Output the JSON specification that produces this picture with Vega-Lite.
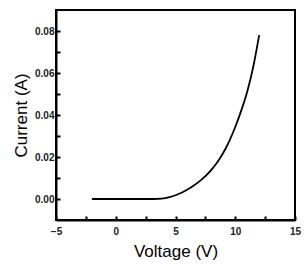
{
  "$schema": "https://vega.github.io/schema/vega-lite/v6.json",
  "width": 239,
  "height": 210,
  "autosize": "none",
  "padding": {"left": 56, "top": 10, "right": 11, "bottom": 45},
  "background": "white",
  "config": {
    "view": {"stroke": "black", "strokeWidth": 2},
    "axis": {
      "domainColor": "black",
      "domainWidth": 2,
      "tickColor": "black",
      "tickWidth": 2,
      "tickSize": -4,
      "labelFont": "Liberation Sans",
      "labelFontWeight": "bold",
      "labelFontSize": 10,
      "labelColor": "#222",
      "titleFont": "Liberation Sans",
      "titleFontWeight": "normal",
      "titleFontSize": 17,
      "titleColor": "black",
      "grid": false
    }
  },
  "data": {
    "values": [
      {"v": -2, "i": 0},
      {"v": -1, "i": 0},
      {"v": 0, "i": 0},
      {"v": 1, "i": 0},
      {"v": 2, "i": 0},
      {"v": 3, "i": 0},
      {"v": 3.5, "i": 0.0001},
      {"v": 4, "i": 0.0003},
      {"v": 4.5, "i": 0.0009},
      {"v": 5, "i": 0.0018},
      {"v": 5.5, "i": 0.003},
      {"v": 6, "i": 0.0045},
      {"v": 6.5, "i": 0.0063},
      {"v": 7, "i": 0.0084},
      {"v": 7.5, "i": 0.0109},
      {"v": 8, "i": 0.0139},
      {"v": 8.5, "i": 0.0175},
      {"v": 9, "i": 0.022},
      {"v": 9.5, "i": 0.0276},
      {"v": 10, "i": 0.0343},
      {"v": 10.5, "i": 0.0421},
      {"v": 11, "i": 0.0511},
      {"v": 11.5, "i": 0.0628},
      {"v": 12, "i": 0.078}
    ]
  },
  "mark": {"type": "line", "color": "black", "strokeWidth": 1.8, "interpolate": "monotone"},
  "encoding": {
    "x": {
      "field": "v",
      "type": "quantitative",
      "scale": {"domain": [-5, 15], "nice": false, "zero": false},
      "axis": {
        "title": "Voltage (V)",
        "values": [-5, -2.5, 0, 2.5, 5, 7.5, 10, 12.5, 15],
        "labelExpr": "datum.value % 5 === 0 ? datum.label : ''",
        "labelPadding": 10,
        "titlePadding": 7.5,
        "labelFlush": false
      }
    },
    "y": {
      "field": "i",
      "type": "quantitative",
      "scale": {"domain": [-0.01, 0.09], "nice": false, "zero": false},
      "axis": {
        "title": "Current (A)",
        "values": [0, 0.01, 0.02, 0.03, 0.04, 0.05, 0.06, 0.07, 0.08],
        "format": ".2f",
        "labelExpr": "round(datum.value * 100) % 2 === 0 ? datum.label : ''",
        "labelPadding": 6,
        "titlePadding": 4,
        "labelFlush": false
      }
    }
  }
}
